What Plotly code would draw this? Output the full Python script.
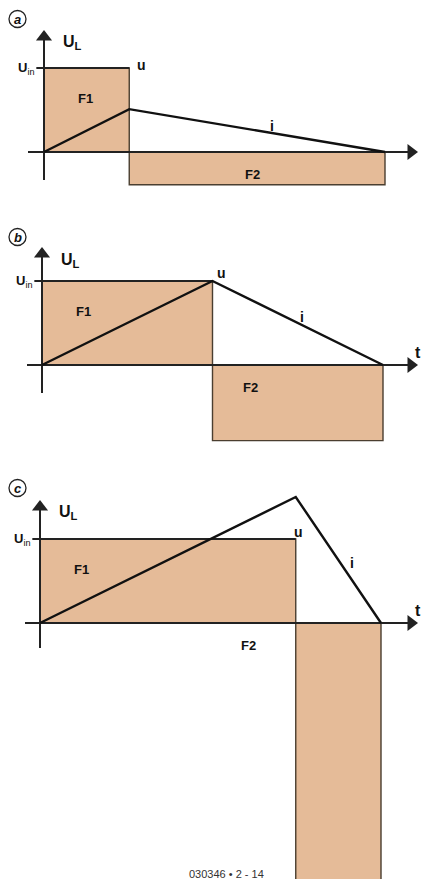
import plotly.graph_objects as go

# ---- data (diagram units: time in periods, voltage relative to U_in) ----
panel_names = ["a", "b", "c"]
t_on = [1.0, 2.0, 3.0]          # end of charging interval (point "u")
t_end = [4.0, 4.0, 4.0]         # end of discharge interval
u_in = [1.0, 1.0, 1.0]          # input voltage level
u_off = [-0.39, -0.90, -3.10]   # negative voltage during discharge (F2)
i_peak = [0.51, 1.00, 1.50]     # peak of current i

# ---- layout geometry (pixels) ----
W, H = 422, 879
PXX, PXY = 85.25, 84.0
origin_px = [(44, 152), (42, 365), (40, 623)]
band_px = [(0, 200), (200, 460), (460, 879)]
yaxis_top_px = [30, 247, 500]
yaxis_bot_px = [180, 393, 648]
xaxis_left_px = [28, 27, 25]
arrow_tip_px = 417
fill_col = "#e5bb98"
edge_col = "#4a3e30"
ink = "#111111"
axis_col = "#222222"
font_b = "Liberation Sans, Arial, sans-serif"

fig = go.Figure()
annotations = []
shapes = []

for k in range(3):
    sx = "" if k == 0 else str(k + 1)
    xa, ya = "x" + sx, "y" + sx
    ox, oy = origin_px[k]
    top, bot = band_px[k]
    fig.update_layout(**{
        ("xaxis" + sx): dict(range=[-ox / PXX, (W - ox) / PXX], domain=[0, 1],
                              visible=False, fixedrange=True, anchor=ya),
        ("yaxis" + sx): dict(range=[-(bot - oy) / PXY, (oy - top) / PXY],
                              domain=[1 - bot / H, 1 - top / H],
                              visible=False, fixedrange=True, anchor=xa),
    })

    ton, tend, ui, uo, ip = t_on[k], t_end[k], u_in[k], u_off[k], i_peak[k]
    common = dict(xaxis=xa, yaxis=ya, hoverinfo="skip", showlegend=False)
    # F1 area
    fig.add_trace(go.Scatter(x=[0, 0, ton, ton, 0], y=[0, ui, ui, 0, 0],
                             fill="toself", fillcolor=fill_col, mode="lines",
                             line=dict(color=edge_col, width=1.4), **common))
    # F2 area
    fig.add_trace(go.Scatter(x=[ton, ton, tend, tend, ton], y=[0, uo, uo, 0, 0],
                             fill="toself", fillcolor=fill_col, mode="lines",
                             line=dict(color=edge_col, width=1.4), **common))
    # U_in level line with tick
    fig.add_trace(go.Scatter(x=[-0.09, ton], y=[ui, ui], mode="lines",
                             line=dict(color=axis_col, width=1.8), **common))

    # axes (lines + triangle heads)
    x_left = (xaxis_left_px[k] - ox) / PXX
    head_c = (arrow_tip_px - 6 - ox) / PXX
    fig.add_trace(go.Scatter(x=[x_left, head_c], y=[0, 0], mode="lines",
                             line=dict(color=axis_col, width=2), **common))
    fig.add_trace(go.Scatter(x=[head_c], y=[0], mode="markers",
                             marker=dict(symbol="triangle-right", size=14, color=axis_col,
                                         line=dict(width=0)), **common))
    y_bot = (oy - yaxis_bot_px[k]) / PXY
    y_head_c = (oy - yaxis_top_px[k] - 7) / PXY
    fig.add_trace(go.Scatter(x=[0, 0], y=[y_bot, y_head_c], mode="lines",
                             line=dict(color=axis_col, width=2), **common))
    fig.add_trace(go.Scatter(x=[0], y=[y_head_c], mode="markers",
                             marker=dict(symbol="triangle-up", size=14, color=axis_col,
                                         line=dict(width=0)), **common))

    # current i
    fig.add_trace(go.Scatter(x=[0, ton, tend], y=[0, ip, 0], mode="lines",
                             line=dict(color=ink, width=2.4), **common))

    def txt(x, y, s, size=14, xanchor="center"):
        annotations.append(dict(x=x, y=y, xref=xa, yref=ya, text=s, showarrow=False,
                                xanchor=xanchor, yanchor="middle",
                                font=dict(family=font_b, size=size, color=ink)))

    txt(0.2, [1.30, 1.24, 1.31][k], "<b>U<sub>L</sub></b>", size=16, xanchor="left")
    txt(-0.09, ui, "<b>U</b><sub>in</sub>", size=13, xanchor="right")
    txt(0.49, 0.64, "<b>F1</b>", size=13)
    txt(2.44, -0.27, "<b>F2</b>", size=13)
    u_pos = [(ton + 0.14, ui + 0.03), (ton + 0.11, ui + 0.09), (ton + 0.03, ui + 0.08)][k]
    txt(u_pos[0], u_pos[1], "<b>u</b>", size=14)
    i_pos = [(2.68, 0.31), (3.05, 0.57), (3.66, 0.71)][k]
    txt(i_pos[0], i_pos[1], "<b>i</b>", size=14)
    t_x = [423, 418, 418][k]
    txt((t_x - ox) / PXX, 0.15, "<b>t</b>", size=16)

    # panel letter in circle
    cy = [19, 237, 488][k]
    shapes.append(dict(type="circle", xref="paper", yref="paper",
                       x0=9 / W, x1=26 / W, y0=1 - (cy + 8.5) / H, y1=1 - (cy - 8.5) / H,
                       line=dict(color=axis_col, width=1.3)))
    annotations.append(dict(x=17.5 / W, y=1 - cy / H, xref="paper", yref="paper",
                            xanchor="center", yanchor="middle",
                            text="<b><i>" + panel_names[k] + "</i></b>", showarrow=False,
                            font=dict(family=font_b, size=13, color=ink)))

annotations.append(dict(x=226 / W, y=1 - 874 / H, xref="paper", yref="paper",
                        xanchor="center", yanchor="middle",
                        text="030346 • 2 - 14", showarrow=False,
                        font=dict(family=font_b, size=11, color="#333")))

fig.update_layout(width=W, height=H, margin=dict(l=0, r=0, t=0, b=0),
                  paper_bgcolor="white", plot_bgcolor="rgba(0,0,0,0)",
                  showlegend=False, annotations=annotations, shapes=shapes)

fig.write_html("out.html", config={"displayModeBar": False, "staticPlot": True},
               post_script="document.body.style.margin='0';"
                           "document.body.style.overflow='hidden';")
